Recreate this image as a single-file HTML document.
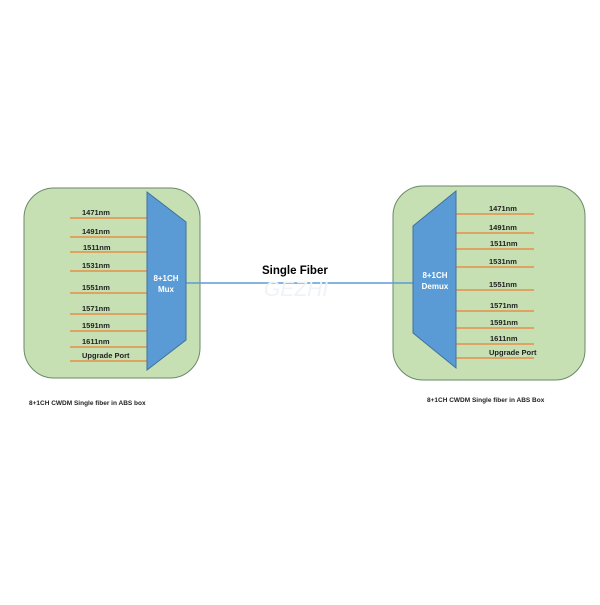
<!DOCTYPE html>
<html><head><style>body{margin:0;background:#fff}</style></head><body>
<svg width="600" height="600" xmlns="http://www.w3.org/2000/svg" font-family="Liberation Sans, sans-serif">
<rect x="24" y="188" width="176" height="190" rx="30" fill="#c6e0b4" stroke="#6a8a6a" stroke-width="1"/>
<rect x="393" y="186" width="192" height="194" rx="30" fill="#c6e0b4" stroke="#6a8a6a" stroke-width="1"/>
<line x1="186" y1="283" x2="413" y2="283" stroke="#5b9bd5" stroke-width="1.5"/>
<text x="296" y="296" font-size="21" font-style="italic" fill="#eef3f8" text-anchor="middle">GEZHI</text>
<text x="262" y="274" font-size="11.5" font-weight="bold" fill="#000">Single Fiber</text>
<g stroke="#ed7d31" stroke-width="1.2">
<line x1="70" y1="218" x2="147" y2="218"/><line x1="70" y1="237" x2="147" y2="237"/><line x1="70" y1="252" x2="147" y2="252"/><line x1="70" y1="271" x2="147" y2="271"/><line x1="70" y1="293" x2="147" y2="293"/><line x1="70" y1="314" x2="147" y2="314"/><line x1="70" y1="331" x2="147" y2="331"/><line x1="70" y1="347" x2="147" y2="347"/><line x1="70" y1="361" x2="147" y2="361"/>
<line x1="456" y1="214" x2="534" y2="214"/><line x1="456" y1="233" x2="534" y2="233"/><line x1="456" y1="249" x2="534" y2="249"/><line x1="456" y1="267" x2="534" y2="267"/><line x1="456" y1="290" x2="534" y2="290"/><line x1="456" y1="311" x2="534" y2="311"/><line x1="456" y1="328" x2="534" y2="328"/><line x1="456" y1="344" x2="534" y2="344"/><line x1="456" y1="358" x2="534" y2="358"/>
</g>
<polygon points="147,192 186,222 186,340 147,370" fill="#5b9bd5" stroke="#41719c" stroke-width="1"/>
<polygon points="456,191 413,226 413,333 456,368" fill="#5b9bd5" stroke="#41719c" stroke-width="1"/>
<g font-size="7.5" font-weight="bold" fill="#222">
<text x="82" y="215">1471nm</text><text x="82" y="234">1491nm</text><text x="83" y="250">1511nm</text><text x="82" y="268">1531nm</text><text x="82" y="290">1551nm</text><text x="82" y="311">1571nm</text><text x="82" y="328">1591nm</text><text x="82" y="344">1611nm</text><text x="82" y="358">Upgrade Port</text>
<text x="489" y="211">1471nm</text><text x="489" y="230">1491nm</text><text x="490" y="246">1511nm</text><text x="489" y="264">1531nm</text><text x="489" y="287">1551nm</text><text x="490" y="308">1571nm</text><text x="490" y="325">1591nm</text><text x="490" y="341">1611nm</text><text x="489" y="355">Upgrade Port</text>
</g>
<g font-size="8" font-weight="bold" fill="#fff" text-anchor="middle">
<text x="166" y="281">8+1CH</text><text x="166" y="292">Mux</text>
<text x="435" y="278">8+1CH</text><text x="435" y="289">Demux</text>
</g>
<g font-size="6.5" font-weight="bold" fill="#222">
<text x="29" y="405">8+1CH CWDM Single fiber in ABS box</text>
<text x="427" y="402">8+1CH CWDM Single fiber in ABS Box</text>
</g>
</svg>
</body></html>
